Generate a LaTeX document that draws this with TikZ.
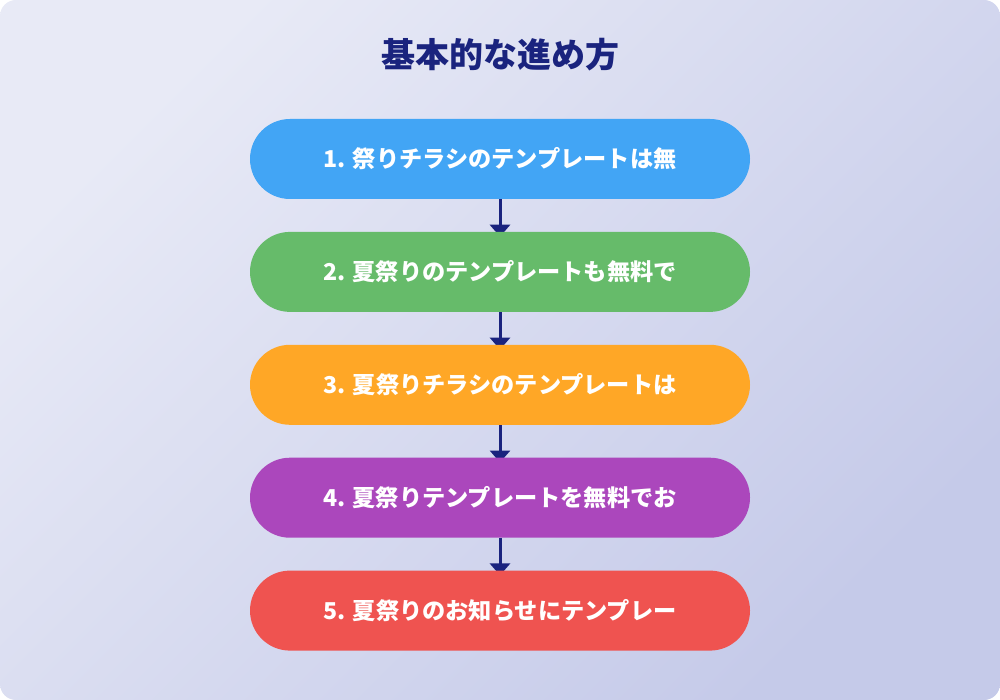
\documentclass[tikz,border=0pt]{standalone}
\usepackage{fontspec}
\setmainfont{Noto Sans CJK JP}
\usepackage{tikz}
\usetikzlibrary{positioning}
\usetikzlibrary{arrows.meta}
\usetikzlibrary{backgrounds}

\definecolor{bgtop}{HTML}{E8EAF6}
\definecolor{bgbot}{HTML}{C5CAE9}
\definecolor{navy}{HTML}{1A237E}
\definecolor{stepblue}{HTML}{42A5F5}
\definecolor{stepgreen}{HTML}{66BB6A}
\definecolor{steporange}{HTML}{FFA726}
\definecolor{steppurple}{HTML}{AB47BC}
\definecolor{stepred}{HTML}{EF5350}

\tikzset{
	stepbox/.style={rounded corners=40pt, minimum width=500pt, minimum height=80pt,
		inner sep=0pt, text=white, font=\fontsize{23.2}{27}\selectfont\bfseries},
	flow/.style={-{Triangle[width=20pt,length=12pt]}, line width=3pt, navy}
}

\begin{document}
\begin{tikzpicture}[x=1pt,y=-1pt]
	\useasboundingbox (0,0) rectangle (1000,700);
	
	\node (title) at (500,55) {\fontsize{34}{38}\selectfont\bfseries\color{navy}基本的な進め方};
	
	\node[stepbox, fill=stepblue] (s1) at (500,159) {1. 祭りチラシのテンプレートは無};
	\node[stepbox, fill=stepgreen, below=32.5pt of s1] (s2) {2. 夏祭りのテンプレートも無料で};
	\node[stepbox, fill=steporange, below=32.5pt of s2] (s3) {3. 夏祭りチラシのテンプレートは};
	\node[stepbox, fill=steppurple, below=32.5pt of s3] (s4) {4. 夏祭りテンプレートを無料でお};
	\node[stepbox, fill=stepred, below=32.5pt of s4] (s5) {5. 夏祭りのお知らせにテンプレー};
	
	\begin{pgfonlayer}{background}
		\shade[top color=bgtop, bottom color=bgbot, shading angle=45, rounded corners=16pt]
			(0,0) rectangle (1000,700);
		\draw[flow] (s1.south) -- ([yshift=-5pt]s2.north);
		\draw[flow] (s2.south) -- ([yshift=-5pt]s3.north);
		\draw[flow] (s3.south) -- ([yshift=-5pt]s4.north);
		\draw[flow] (s4.south) -- ([yshift=-5pt]s5.north);
	\end{pgfonlayer}
\end{tikzpicture}
\end{document}
